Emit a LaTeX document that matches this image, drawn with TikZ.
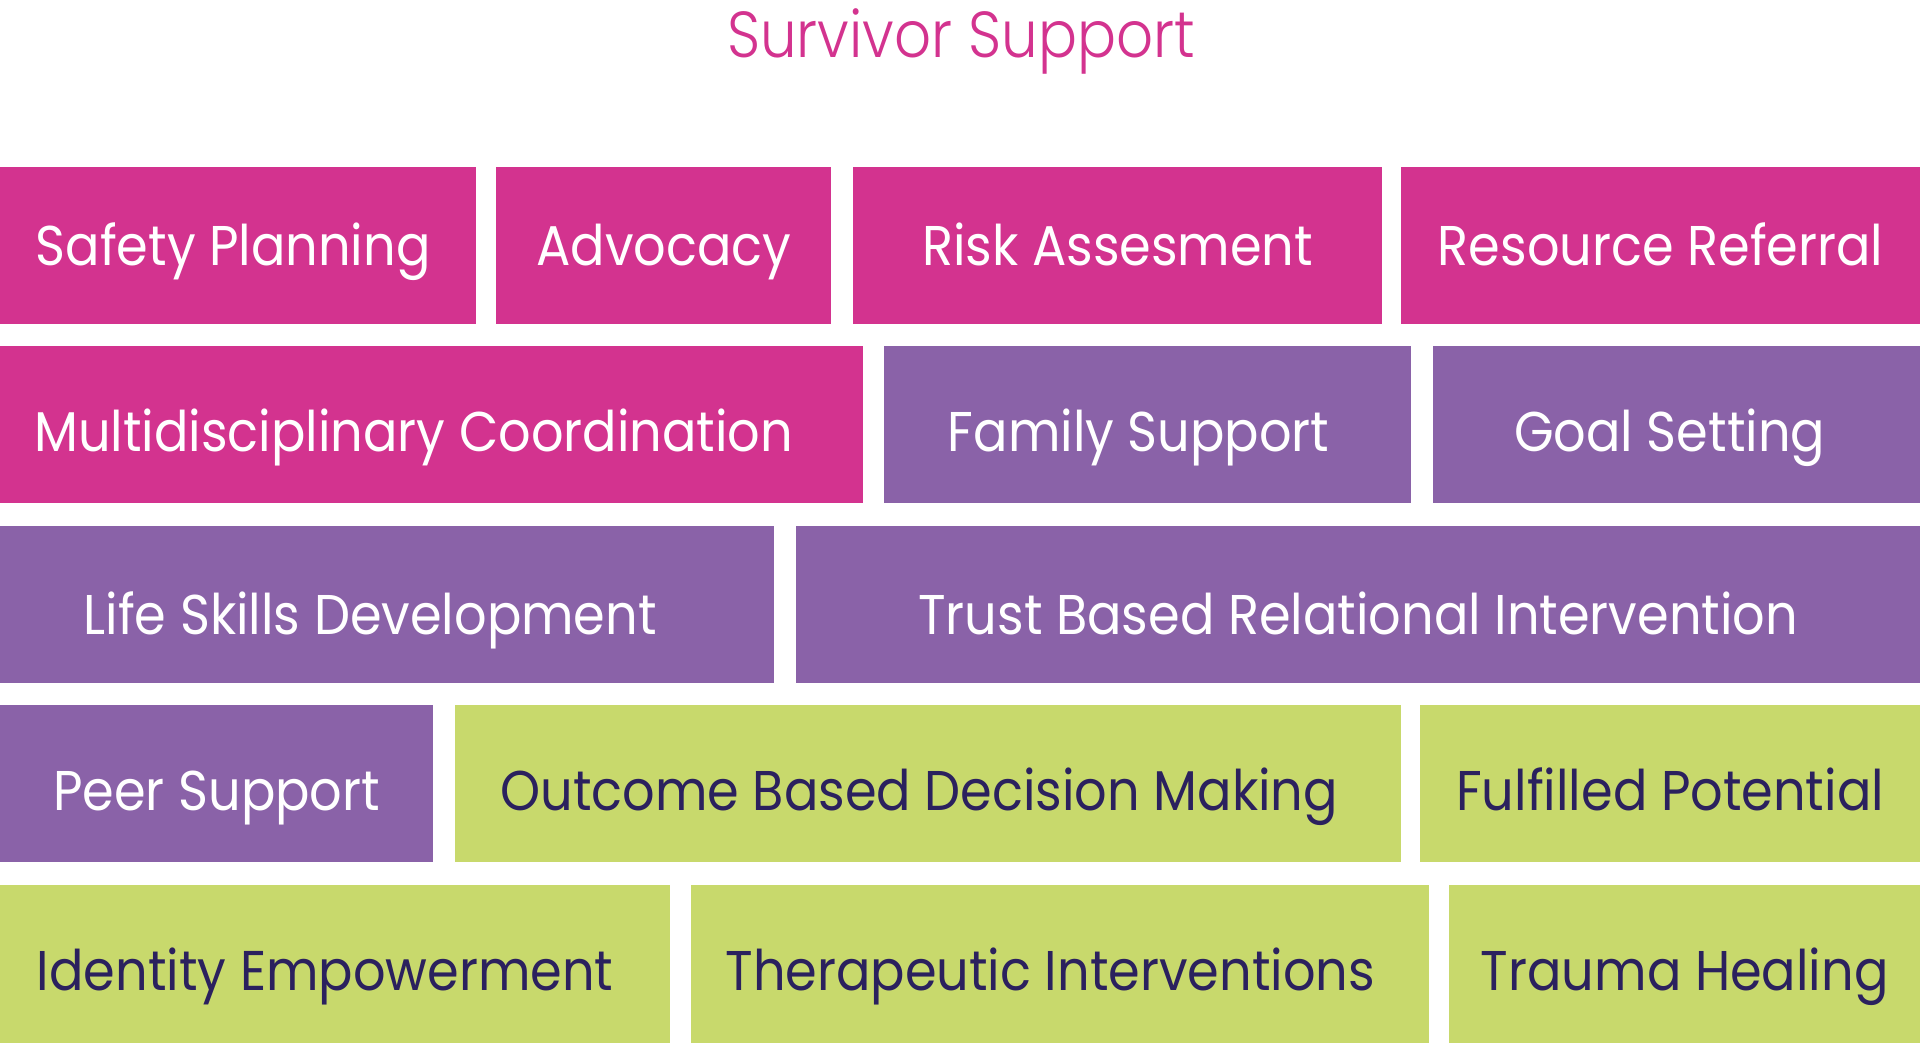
\documentclass[tikz,border=0pt]{standalone}
\usepackage{fontspec}
\setmainfont{Poppins}
\newfontfamily\brickfont[FakeStretch=0.91]{Poppins}
\newfontfamily\headfont[FakeStretch=0.89]{Poppins Light}
\definecolor{survpink}{HTML}{D3338F}
\definecolor{survpurple}{HTML}{8A62A8}
\definecolor{survgreen}{HTML}{C8D96C}
\definecolor{survnavy}{HTML}{2B215E}
\tikzset{
  brick/.style={anchor=north west,rectangle,inner sep=0pt,minimum height=157pt,
    text height=53pt,text depth=0pt,font=\brickfont\fontsize{56}{62}\selectfont},
  pinkbrick/.style={brick,fill=survpink,text=white},
  purplebrick/.style={brick,fill=survpurple,text=white},
  greenbrick/.style={brick,fill=survgreen,text=survnavy},
  nudge/.style={execute at end node={\hspace*{#1}}}
}
\begin{document}
\begin{tikzpicture}[x=1pt,y=-1pt]
  \useasboundingbox (0,0) rectangle (1920,1043);

  \node[anchor=base,text=survpink,font=\headfont\fontsize{65}{72}\selectfont] (title) at (961,58) {Survivor Support};

  % row 1
  \node[pinkbrick,text height=40pt,nudge=10pt,minimum width=476pt] (safety) at (0,167) {Safety Planning};
  \node[pinkbrick,text height=40pt,minimum width=335pt] (advocacy) at (496,167) {Advocacy};
  \node[pinkbrick,text height=40pt,minimum width=529pt] (risk) at (853,167) {Risk Assesment};
  \node[pinkbrick,text height=40pt,minimum width=519pt] (resource) at (1401,167) {Resource Referral};

  % row 2
  \node[pinkbrick,nudge=36pt,minimum width=863pt] (multi) at (0,346) {Multidisciplinary Coordination};
  \node[purplebrick,nudge=18pt,minimum width=527pt] (family) at (884,346) {Family Support};
  \node[purplebrick,nudge=14pt,minimum width=487pt] (goal) at (1433,346) {Goal Setting};

  % row 3
  \node[purplebrick,text height=59pt,nudge=34pt,minimum width=774pt] (life) at (0,526) {Life Skills Development};
  \node[purplebrick,text height=59pt,minimum width=1124pt] (trust) at (796,526) {Trust Based Relational Intervention};

  % row 4
  \node[purplebrick,minimum width=433pt] (peer) at (0,705) {Peer Support};
  \node[greenbrick,nudge=18pt,minimum width=946pt] (outcome) at (455,705) {Outcome Based Decision Making};
  \node[greenbrick,minimum width=500pt] (fulfilled) at (1420,705) {Fulfilled Potential};

  % row 5
  \node[greenbrick,nudge=20pt,minimum width=670pt,minimum height=158pt] (identity) at (0,885) {Identity Empowerment};
  \node[greenbrick,nudge=20pt,minimum width=738pt,minimum height=158pt] (therapy) at (691,885) {Therapeutic Interventions};
  \node[greenbrick,minimum width=471pt,minimum height=158pt] (trauma) at (1449,885) {Trauma Healing};
\end{tikzpicture}
\end{document}
